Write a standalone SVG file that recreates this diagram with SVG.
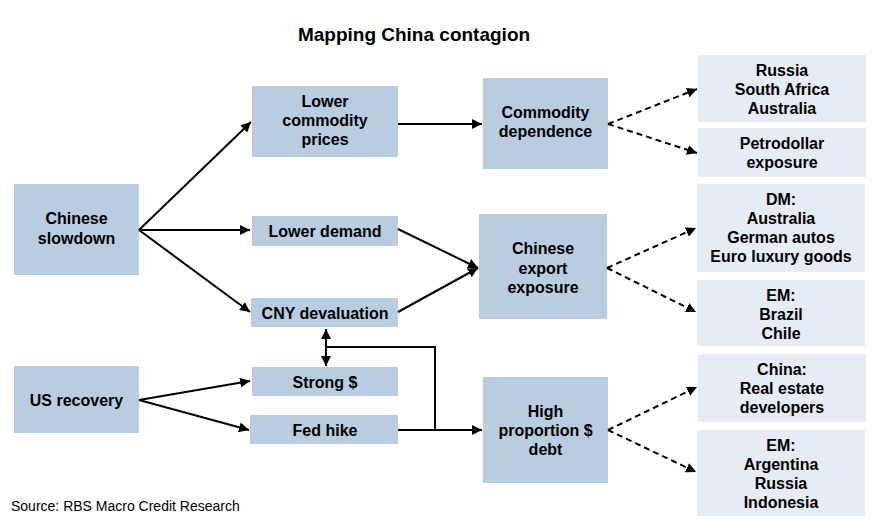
<svg xmlns="http://www.w3.org/2000/svg" width="873" height="521" viewBox="0 0 873 521">
<style>
.m{fill:#b9cde0}
.r{fill:#e6ecf4}
text{font-family:"Liberation Sans",Arial,sans-serif;font-weight:bold;font-size:16px;fill:#000;text-anchor:middle}
.title{font-size:19px}
.src{font-weight:normal;font-size:14px;text-anchor:start}
.c{fill:none;stroke:#000;stroke-width:2}
.d{stroke-dasharray:6,4}
</style>
<defs>
<marker id="ah" viewBox="0 0 10 10" refX="10" refY="5" markerWidth="5" markerHeight="5" orient="auto-start-reverse" markerUnits="strokeWidth">
<path d="M0,0 L10,5 L0,10 z" fill="#000"/>
</marker>
</defs>
<rect width="873" height="521" fill="#fff"/>
<text class="title" x="414" y="41">Mapping China contagion</text>

<g id="chinese-slowdown"><rect class="m" x="14" y="184" width="125" height="91"/><text><tspan x="76.5" y="224">Chinese</tspan><tspan x="76.5" y="244">slowdown</tspan></text></g>
<g id="us-recovery"><rect class="m" x="14" y="366" width="125" height="67"/><text x="76.5" y="406">US recovery</text></g>
<g id="lower-commodity"><rect class="m" x="252" y="86" width="146" height="71"/><text><tspan x="325" y="107">Lower</tspan><tspan x="325" y="126">commodity</tspan><tspan x="325" y="145">prices</tspan></text></g>
<g id="lower-demand"><rect class="m" x="252" y="216" width="146" height="30"/><text x="325" y="237">Lower demand</text></g>
<g id="cny-devaluation"><rect class="m" x="251" y="298" width="147" height="29"/><text x="325" y="319">CNY devaluation</text></g>
<g id="strong-dollar"><rect class="m" x="252" y="367" width="146" height="29"/><text x="325" y="388">Strong $</text></g>
<g id="fed-hike"><rect class="m" x="250" y="415" width="148" height="29"/><text x="325" y="436">Fed hike</text></g>
<g id="commodity-dependence"><rect class="m" x="483" y="78" width="125" height="91"/><text><tspan x="545.5" y="118">Commodity</tspan><tspan x="545.5" y="137">dependence</tspan></text></g>
<g id="chinese-export"><rect class="m" x="479" y="214" width="128" height="105"/><text><tspan x="543" y="254">Chinese</tspan><tspan x="543" y="274">export</tspan><tspan x="543" y="293">exposure</tspan></text></g>
<g id="high-proportion"><rect class="m" x="483" y="377" width="125" height="106"/><text><tspan x="545.5" y="417">High</tspan><tspan x="545.5" y="436">proportion $</tspan><tspan x="545.5" y="455">debt</tspan></text></g>

<g id="russia-sa-aus"><rect class="r" x="698" y="55" width="168" height="67"/><text><tspan x="782" y="76">Russia</tspan><tspan x="782" y="95">South Africa</tspan><tspan x="782" y="114">Australia</tspan></text></g>
<g id="petrodollar"><rect class="r" x="698" y="128" width="168" height="49"/><text><tspan x="782" y="149">Petrodollar</tspan><tspan x="782" y="168">exposure</tspan></text></g>
<g id="dm"><rect class="r" x="697" y="184" width="168" height="88"/><text><tspan x="781" y="205">DM:</tspan><tspan x="781" y="224">Australia</tspan><tspan x="781" y="243">German autos</tspan><tspan x="781" y="262">Euro luxury goods</tspan></text></g>
<g id="em-brazil-chile"><rect class="r" x="697" y="280" width="168" height="66"/><text><tspan x="781" y="301">EM:</tspan><tspan x="781" y="320">Brazil</tspan><tspan x="781" y="339">Chile</tspan></text></g>
<g id="china-real-estate"><rect class="r" x="698" y="354" width="168" height="68"/><text><tspan x="782" y="375">China:</tspan><tspan x="782" y="394">Real estate</tspan><tspan x="782" y="413">developers</tspan></text></g>
<g id="em-arg-rus-ind"><rect class="r" x="697" y="430" width="168" height="86"/><text><tspan x="781" y="451">EM:</tspan><tspan x="781" y="470">Argentina</tspan><tspan x="781" y="489">Russia</tspan><tspan x="781" y="508">Indonesia</tspan></text></g>

<g id="connectors">
<line class="c" x1="139" y1="230" x2="251" y2="122" marker-end="url(#ah)"/>
<line class="c" x1="139" y1="230" x2="250" y2="230" marker-end="url(#ah)"/>
<line class="c" x1="139" y1="230" x2="250" y2="312" marker-end="url(#ah)"/>
<line class="c" x1="398" y1="124" x2="482" y2="124" marker-end="url(#ah)"/>
<line class="c" x1="398" y1="229" x2="478" y2="268" marker-end="url(#ah)"/>
<line class="c" x1="398" y1="312" x2="478" y2="268" marker-end="url(#ah)"/>
<line class="c" x1="139" y1="400" x2="250" y2="381" marker-end="url(#ah)"/>
<line class="c" x1="139" y1="400" x2="249" y2="430" marker-end="url(#ah)"/>
<line class="c" x1="326" y1="329" x2="326" y2="366" marker-start="url(#ah)" marker-end="url(#ah)"/>
<polyline class="c" points="326,347 435,347 435,430"/>
<line class="c" x1="398" y1="430" x2="482" y2="430" marker-end="url(#ah)"/>
<line class="c d" x1="608" y1="124" x2="697" y2="89" marker-end="url(#ah)"/>
<line class="c d" x1="608" y1="124" x2="697" y2="153" marker-end="url(#ah)"/>
<line class="c d" x1="607" y1="268" x2="696" y2="228" marker-end="url(#ah)"/>
<line class="c d" x1="607" y1="268" x2="696" y2="312" marker-end="url(#ah)"/>
<line class="c d" x1="608" y1="430" x2="697" y2="387" marker-end="url(#ah)"/>
<line class="c d" x1="608" y1="430" x2="696" y2="472" marker-end="url(#ah)"/>
</g>

<text class="src" x="11" y="511">Source: RBS Macro Credit Research</text>
</svg>
